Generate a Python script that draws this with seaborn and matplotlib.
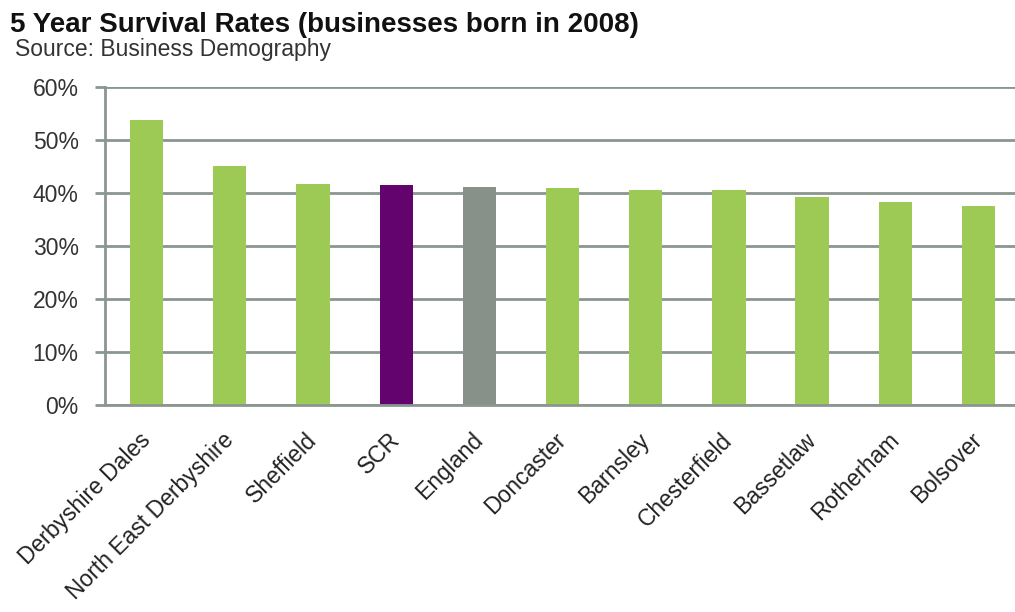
import matplotlib
matplotlib.use("Agg")
import matplotlib.pyplot as plt
import numpy as np
import pandas as pd
import seaborn as sns

areas = ["Derbyshire Dales", "North East Derbyshire", "Sheffield", "SCR", "England",
         "Doncaster", "Barnsley", "Chesterfield", "Bassetlaw", "Rotherham", "Bolsover"]
survival = [53.9, 45.1, 41.8, 41.5, 41.2, 41.0, 40.6, 40.6, 39.3, 38.4, 37.6]
bar_colors = ["#9dc955", "#9dc955", "#9dc955", "#63046e", "#879189",
              "#9dc955", "#9dc955", "#9dc955", "#9dc955", "#9dc955", "#9dc955"]
y_ticks = [0, 10, 20, 30, 40, 50, 60]

sns.set_theme(style="white")
plt.rcParams["font.family"] = ["Liberation Sans", "DejaVu Sans"]

grid_col = "#8a9690"
text_col = "#333333"

df = pd.DataFrame({"area": areas, "rate": survival})

fig = plt.figure(figsize=(10.15, 6.12), dpi=100)
ax = fig.add_axes([105 / 1015, 1 - 404.7 / 612, (1020 - 105) / 1015, (404.7 - 87.3) / 612])

sns.barplot(data=df, x="area", y="rate", hue="area", palette=bar_colors,
            width=0.4, legend=False, ax=ax, saturation=1, linewidth=0)

ax.set_ylim(0, 60)
ax.set_xlim(-0.5, len(areas) - 0.5)
ax.set_yticks(y_ticks)
ax.set_yticklabels([f"{v}%" for v in y_ticks], fontsize=16.5, color=text_col)
ax.yaxis.grid(True, color=grid_col, linewidth=2)
ax.set_axisbelow(True)

ax.set_xticks(range(len(areas)))
ax.set_xticklabels(areas, rotation=45, ha="right", va="center", rotation_mode="anchor",
                   fontsize=16.5, color="#222222")
ax.tick_params(axis="x", which="major", length=0, pad=23)
ax.set_xticks(np.arange(-0.5, len(areas) + 0.5, 1), minor=True)
ax.tick_params(axis="x", which="minor", length=6, width=1.5, color=grid_col, direction="out")
ax.tick_params(axis="y", length=7, width=2, color=grid_col, pad=12, left=True)

ax.set_xlabel("")
ax.set_ylabel("")
for side in ["top", "right"]:
    ax.spines[side].set_visible(False)
for side in ["left", "bottom"]:
    ax.spines[side].set_color(grid_col)
    ax.spines[side].set_linewidth(2)

fig.text(10 / 1015, 1 - 32 / 612, "5 Year Survival Rates (businesses born in 2008)",
         fontsize=20, fontweight="bold", color="#111111", va="baseline")
fig.text(15 / 1015, 1 - 56 / 612, "Source: Business Demography",
         fontsize=16.5, color=text_col, va="baseline")

fig.savefig("out.png", dpi=100)
